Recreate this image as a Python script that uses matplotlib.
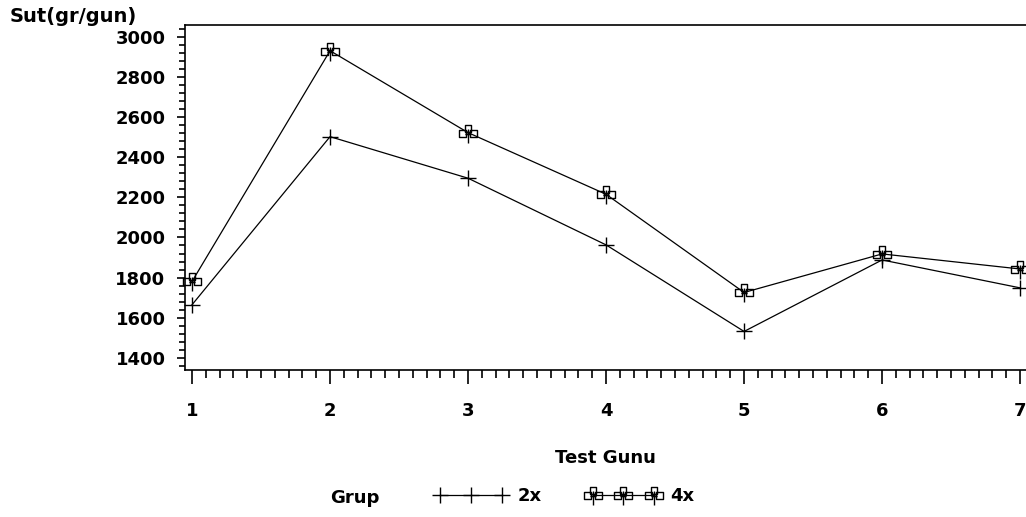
import matplotlib
matplotlib.use("Agg")
import matplotlib.pyplot as plt
from matplotlib.ticker import MultipleLocator
from matplotlib.path import Path

days = [1, 2, 3, 4, 5, 6, 7]
sut_2x = [1665, 2502, 2295, 1963, 1532, 1888, 1749]
sut_4x = [1781, 2930, 2522, 2215, 1726, 1918, 1843]
y_ticks = [1400, 1600, 1800, 2000, 2200, 2400, 2600, 2800, 3000]
x_ticks = [1, 2, 3, 4, 5, 6, 7]

plt.rcParams['font.family'] = ['DejaVu Sans']
plt.rcParams['font.weight'] = 'bold'


def _sq(cx, cy, s):
    h = s / 2
    return ([(cx - h, cy - h), (cx + h, cy - h), (cx + h, cy + h),
             (cx - h, cy + h), (cx - h, cy - h)],
            [Path.MOVETO, Path.LINETO, Path.LINETO, Path.LINETO, Path.CLOSEPOLY])


verts, codes = [], []
for c in [(0, 0.22), (-0.26, -0.04), (0.26, -0.04)]:
    v, cd = _sq(c[0], c[1], 0.36)
    verts += v
    codes += cd
verts += [(0, 0.2), (0, -0.5), (-0.18, -0.04), (0.18, -0.04)]
codes += [Path.MOVETO, Path.LINETO, Path.MOVETO, Path.LINETO]
club = Path(verts, codes)

fig = plt.figure(figsize=(10.26, 5.17), dpi=100)
W, H = 1026, 517
ax = fig.add_axes([185 / W, (H - 370) / H, 842 / W, 345 / H])

ax.plot(days, sut_2x, color='black', lw=0.9, marker='+', markersize=12,
        markeredgewidth=1.0, label='2x', clip_on=False)
ax.plot(days, sut_4x, color='black', lw=0.9, marker=club, markersize=14,
        markerfacecolor='none', markeredgecolor='black', markeredgewidth=1.0,
        label='4x', clip_on=False)

ax.set_xlim(0.949, 7.05)
ax.set_ylim(1340, 3058)
ax.set_xticks(x_ticks)
ax.set_yticks(y_ticks)
ax.xaxis.set_minor_locator(MultipleLocator(0.1))
ax.yaxis.set_minor_locator(MultipleLocator(40))
ax.tick_params(axis='both', which='major', direction='out', width=1.2,
               labelsize=13, colors='black')
ax.tick_params(axis='x', which='major', length=10, pad=13)
ax.tick_params(axis='x', which='minor', length=6, width=1.2)
ax.tick_params(axis='y', which='major', length=6, pad=8)
ax.tick_params(axis='y', which='minor', length=4, width=1.2)
for lab in ax.get_xticklabels() + ax.get_yticklabels():
    lab.set_fontweight('bold')
for s in ax.spines.values():
    s.set_linewidth(1.2)
ax.spines['right'].set_visible(False)

fig.text(10 / W, 1 - 17 / H, 'Sut(gr/gun)', fontsize=14, fontweight='bold',
         ha='left', va='center')
fig.text(605 / W, 1 - 458 / H, 'Test Gunu', fontsize=13, fontweight='bold',
         ha='center', va='center')
fig.text(330 / W, 1 - 498 / H, 'Grup', fontsize=13, fontweight='bold',
         ha='left', va='center')

leg = fig.legend(loc='center left', bbox_to_anchor=(435 / W, 1 - 496 / H),
                 ncol=2, frameon=False, numpoints=3, handlelength=4.0,
                 handletextpad=0.6, columnspacing=2.5, borderpad=0,
                 borderaxespad=0, prop={'size': 13, 'weight': 'bold'})

fig.savefig('out.png', dpi=100)
